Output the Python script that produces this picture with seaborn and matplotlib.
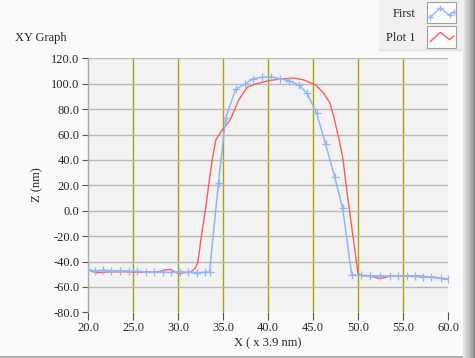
import matplotlib
matplotlib.use("Agg")
import matplotlib.pyplot as plt
import seaborn as sns
import pandas as pd
from matplotlib.legend_handler import HandlerBase
from matplotlib.lines import Line2D
from matplotlib.patches import Rectangle

# Profile "First" (sampled, with markers)
first_x = [20.0, 20.8, 21.7, 22.6, 23.5, 24.5, 25.4, 26.4, 27.3, 28.3, 29.2, 30.2,
           31.1, 32.1, 33.0, 33.5, 34.5, 35.3, 36.4, 37.4, 38.35, 39.3, 40.3, 41.3,
           42.3, 43.4, 44.35, 45.4, 46.4, 47.4, 48.3, 49.3, 50.3, 51.3, 52.4, 53.6,
           54.4, 55.4, 56.3, 57.2, 58.1, 59.2, 60.0]
first_z = [-46.5, -47.5, -46.8, -47.2, -47.3, -47.5, -47.6, -48.2, -48.4, -48.3, -48.6, -48.0,
           -48.5, -48.7, -48.5, -48.2, 22.0, 73.0, 95.6, 99.5, 104.0, 105.0, 105.5, 104.0,
           102.4, 99.0, 92.4, 76.7, 52.5, 26.8, 1.9, -50.6, -50.8, -51.2, -51.3, -51.5,
           -51.6, -51.6, -51.8, -52.0, -52.5, -53.2, -53.6]

# Profile "Plot 1"
plot1_x = [20.0, 20.5, 21.0, 22.0, 23.0, 24.0, 25.0, 26.0, 27.0, 28.0, 28.7, 29.2,
           29.6, 30.1, 30.7, 31.4, 31.9, 32.2, 32.6, 33.05, 33.5, 33.8, 34.2, 34.9,
           35.8, 36.75, 37.7, 38.6, 39.2, 40.1, 41.4, 42.5, 43.0, 44.0, 45.3, 46.2,
           46.9, 47.4, 47.9, 48.3, 48.8, 49.3, 49.7, 50.0, 50.4, 51.0, 51.8, 52.2,
           52.8, 53.5, 54.5, 55.5, 56.5, 57.2, 58.0, 58.6, 59.2, 59.6]
plot1_z = [-46.5, -48.0, -48.8, -48.3, -48.2, -48.1, -48.3, -48.5, -48.4, -47.8, -46.5, -46.3,
           -48.0, -49.6, -48.8, -48.3, -45.4, -41.0, -20.0, 0.6, 25.0, 40.0, 55.7, 63.5,
           71.4, 87.2, 97.2, 99.8, 100.8, 102.4, 103.7, 104.2, 104.3, 102.9, 99.0, 92.4,
           84.6, 71.4, 55.7, 42.0, 13.7, -12.6, -33.5, -49.3, -51.2, -51.4, -52.2, -53.2,
           -53.0, -51.5, -51.5, -51.3, -51.4, -51.6, -52.3, -52.4, -53.2, -53.8]

x_ticks = [20.0, 25.0, 30.0, 35.0, 40.0, 45.0, 50.0, 55.0, 60.0]
y_ticks = [-80.0, -60.0, -40.0, -20.0, 0.0, 20.0, 40.0, 60.0, 80.0, 100.0, 120.0]

BLUE = "#8fb5fb"
RED = "#ff5a5a"
OLIVE = "#aaa200"
GRID = "#b8b8b8"

sns.set_style("white")
plt.rcParams["font.family"] = ["Liberation Serif", "DejaVu Serif"]
plt.rcParams["font.size"] = 9

W, H = 475, 358
fig = plt.figure(figsize=(W / 100, H / 100), dpi=100, facecolor="#fafafa")
ax = fig.add_axes([88 / W, 1 - 312.3 / H, 360 / W, 254 / H], facecolor="#f3f3f3")

df_first = pd.DataFrame({"x": first_x, "z": first_z})
df_plot1 = pd.DataFrame({"x": plot1_x, "z": plot1_z})

sns.lineplot(data=df_plot1, x="x", y="z", ax=ax, sort=False, color=RED,
             linewidth=1.0, label="Plot 1", zorder=3)
sns.lineplot(data=df_first, x="x", y="z", ax=ax, sort=False, color=BLUE,
             linewidth=1.1, marker="+", markersize=6, markeredgewidth=0.9,
             markeredgecolor=BLUE, label="First", zorder=4)

ax.set_xlim(20, 60)
ax.set_ylim(-80, 120)
ax.set_xticks(x_ticks)
ax.set_yticks(y_ticks)
ax.set_xticklabels([f"{v:.1f}" for v in x_ticks])
ax.set_yticklabels([f"{v:.1f}" for v in y_ticks])
ax.set_xlabel("")
ax.set_ylabel("")

ax.yaxis.grid(True, color=GRID, linewidth=1.0)
ax.xaxis.grid(True, color=OLIVE, linewidth=1.0)
ax.yaxis.get_gridlines()[0].set_visible(False)
ax.xaxis.get_gridlines()[0].set_visible(False)
ax.xaxis.get_gridlines()[-1].set_visible(False)
ax.set_axisbelow(True)

for side in ("top", "right", "bottom"):
    ax.spines[side].set_visible(False)
ax.spines["left"].set_color("#a8a8a8")
ax.spines["left"].set_linewidth(1.0)

ax.tick_params(axis="y", direction="out", length=4, width=0.8, color="#555555",
               pad=2, labelsize=9, left=True)
ax.tick_params(axis="x", direction="out", length=6, width=0.8, color="#555555",
               pad=1, labelsize=9, bottom=True)


class ZigZagHandler(HandlerBase):
    """Draws a small framed zig-zag swatch for each legend entry."""

    def create_artists(self, legend, orig, xd, yd, width, height, fontsize, trans):
        frame = Rectangle((-xd, -yd - 4), width, height + 8, facecolor="#fbfbfb",
                          edgecolor="#a0a0a0", linewidth=0.8, transform=trans)
        xs = [-xd + width * f for f in (0.1, 0.45, 0.78, 0.92)]
        ys = [-yd + height * f for f in (0.05, 0.95, 0.25, 0.6)]
        line = Line2D(xs, ys, color=orig.get_color(), linewidth=1.0,
                      marker=orig.get_marker(), markersize=5,
                      markeredgewidth=0.9, markeredgecolor=orig.get_color(),
                      transform=trans)
        return [frame, line]


handles, labels = ax.get_legend_handles_labels()
order = [labels.index("First"), labels.index("Plot 1")]
leg = ax.legend([handles[i] for i in order], [labels[i] for i in order],
                loc="upper left", bbox_to_anchor=(379 / W, 1.0),
                bbox_transform=fig.transFigure, markerfirst=False,
                handler_map={Line2D: ZigZagHandler()}, handlelength=2.3,
                handleheight=0.9, handletextpad=0.9, labelspacing=0.95,
                borderpad=0.6, borderaxespad=0, frameon=True, fancybox=False,
                facecolor="#efefef", edgecolor="#efefef", fontsize=9)
leg.get_frame().set_linewidth(0)
leg.set_zorder(10)

# Window chrome: right-hand bevel and bottom edge
for i, c in enumerate(["#e4e4e4", "#d6d6d6", "#c8c8c8", "#b8b8b8", "#a4a4a4", "#8c8c8c"]):
    fig.patches.append(Rectangle(((463 + 2 * i) / W, 0), 2 / W, 1, transform=fig.transFigure,
                                 facecolor=c, edgecolor="none", zorder=-1))
fig.patches.append(Rectangle((0, 0), 463 / W, 2 / H, transform=fig.transFigure,
                             facecolor="#b0b0b0", edgecolor="none", zorder=-1))
fig.patches.append(Rectangle((379 / W, 1 - 51 / H), 84 / W, 1.5 / H, transform=fig.transFigure,
                             facecolor="#bdbdbd", edgecolor="none", zorder=-1))

fig.text(15 / W, 1 - 38 / H, "XY Graph", ha="left", va="center", fontsize=9)
fig.text(37 / W, 1 - 185 / H, "Z (nm)", ha="center", va="center", rotation=90, fontsize=9)
fig.text(268 / W, 1 - 343 / H, "X ( x 3.9 nm)", ha="center", va="center", fontsize=9)

fig.savefig("out.png", dpi=100, facecolor=fig.get_facecolor())
